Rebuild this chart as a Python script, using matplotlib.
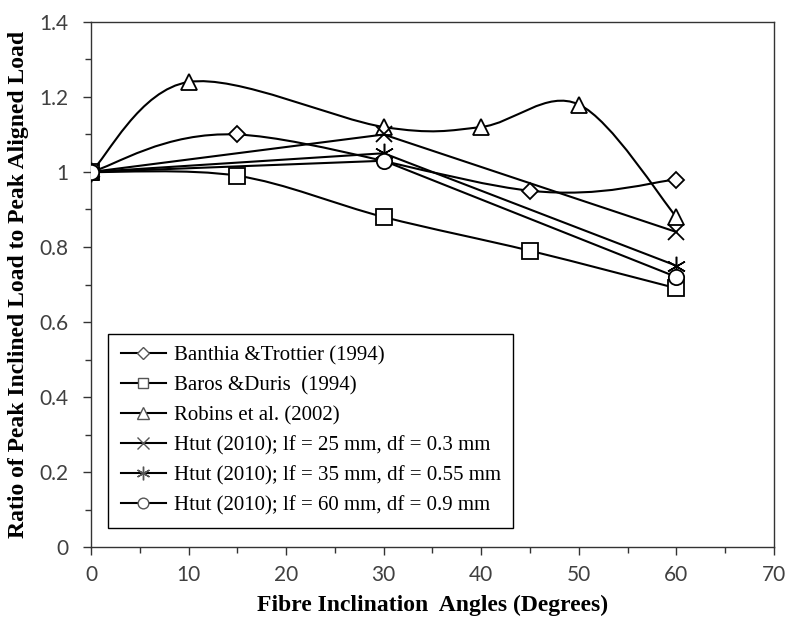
import numpy as np
import matplotlib
matplotlib.use("Agg")
import matplotlib.pyplot as plt
from matplotlib.path import Path
from matplotlib.patches import PathPatch
from matplotlib.lines import Line2D

# data
banthia_x = [0, 15, 45, 60]
banthia_y = [1.0, 1.10, 0.95, 0.98]
baros_x = [0, 15, 30, 45, 60]
baros_y = [1.0, 0.99, 0.88, 0.79, 0.69]
robins_x = [0, 10, 30, 40, 50, 60]
robins_y = [1.0, 1.24, 1.12, 1.12, 1.18, 0.88]
htut25_x = [0, 30, 60]
htut25_y = [1.0, 1.10, 0.84]
htut35_x = [0, 30, 60]
htut35_y = [1.0, 1.05, 0.75]
htut60_x = [0, 30, 60]
htut60_y = [1.0, 1.03, 0.72]

labels = ['Banthia &Trottier (1994)',
          'Baros &Duris  (1994)',
          'Robins et al. (2002)',
          'Htut (2010); lf = 25 mm, df = 0.3 mm',
          'Htut (2010); lf = 35 mm, df = 0.55 mm',
          'Htut (2010); lf = 60 mm, df = 0.9 mm']

# x, y, marker, marker size, smoothed line?
series = [(banthia_x, banthia_y, 'D', 8.5, True),
          (baros_x, baros_y, 's', 11, True),
          (robins_x, robins_y, '^', 11.5, True),
          (htut25_x, htut25_y, 'x', 12, False),
          (htut35_x, htut35_y, (6, 2, 0), 14, False),
          (htut60_x, htut60_y, 'o', 11, False)]


def smooth_path(x, y):
    # Excel style smoothed line, cubic bezier through the points
    p = np.column_stack([x, y]).astype(float)
    ext = np.vstack([p[0], p, p[-1]])
    verts = [p[0]]
    codes = [Path.MOVETO]
    for i in range(len(p) - 1):
        p0, p1, p2, p3 = ext[i], ext[i + 1], ext[i + 2], ext[i + 3]
        c1 = p1 + (p2 - p0) / 6
        c2 = p2 - (p3 - p1) / 6
        verts += [c1, c2, p2]
        codes += [Path.CURVE4] * 3
    return Path(verts, codes)


fig = plt.figure(figsize=(7.88, 6.22), dpi=100)
ax = fig.add_axes([91 / 788, 75 / 622, 683 / 788, 525 / 622])

handles = []
for (x, y, m, ms, smooth), lab in zip(series, labels):
    mew = 1.1 if isinstance(m, tuple) else 1.3
    if smooth:
        ax.add_patch(PathPatch(smooth_path(x, y), facecolor='none',
                               edgecolor='black', lw=1.5, zorder=2))
        ax.plot(x, y, linestyle='none', marker=m, ms=ms, mfc='white',
                mec='black', mew=mew, zorder=3)
    else:
        ax.plot(x, y, color='black', lw=1.5, marker=m, ms=ms, mfc='white',
                mec='black', mew=mew, zorder=3)
    handles.append(Line2D([], [], color='black', lw=1.5, marker=m,
                          ms=ms * 0.7, mfc='white', mec='#555555',
                          mew=1.0, label=lab))

ax.set_xlim(0, 70)
ax.set_ylim(0, 1.4)
ax.set_xticks(np.arange(0, 71, 10))
ax.set_yticks([0, 0.2, 0.4, 0.6, 0.8, 1.0, 1.2, 1.4])
ax.set_yticklabels(['0', '0.2', '0.4', '0.6', '0.8', '1', '1.2', '1.4'])
ax.set_xticks(np.arange(5, 70, 10), minor=True)
ax.set_yticks(np.arange(0.1, 1.4, 0.2), minor=True)
ax.tick_params(which='major', direction='out', length=6, width=1,
               labelsize=15, colors='#333333')
ax.tick_params(which='minor', direction='out', length=4.5, width=1,
               colors='#333333')
ax.tick_params(axis='x', which='major', pad=7)
ax.tick_params(axis='y', which='major', pad=10)
for lab in ax.get_xticklabels() + ax.get_yticklabels():
    lab.set_fontfamily('Lato')
    lab.set_color('#404040')
for s in ax.spines.values():
    s.set_linewidth(1.0)
    s.set_color('#333333')

ax.set_xlabel('Fibre Inclination  Angles (Degrees)', fontfamily='Liberation Serif',
              fontweight='bold', fontsize=17, labelpad=7)
ax.set_ylabel('Ratio of Peak Inclined Load to Peak Aligned Load',
              fontfamily='Liberation Serif', fontweight='bold', fontsize=17,
              labelpad=8)

leg = ax.legend(handles=handles, loc='lower left',
                bbox_to_anchor=(0.025, 0.036), borderaxespad=0,
                fancybox=False, edgecolor='black', framealpha=1,
                prop={'family': 'Liberation Serif', 'size': 15},
                handlelength=2.2, handletextpad=0.35, labelspacing=0.5,
                borderpad=0.6)
leg.get_frame().set_linewidth(1.0)

fig.savefig('out.png', dpi=100)
